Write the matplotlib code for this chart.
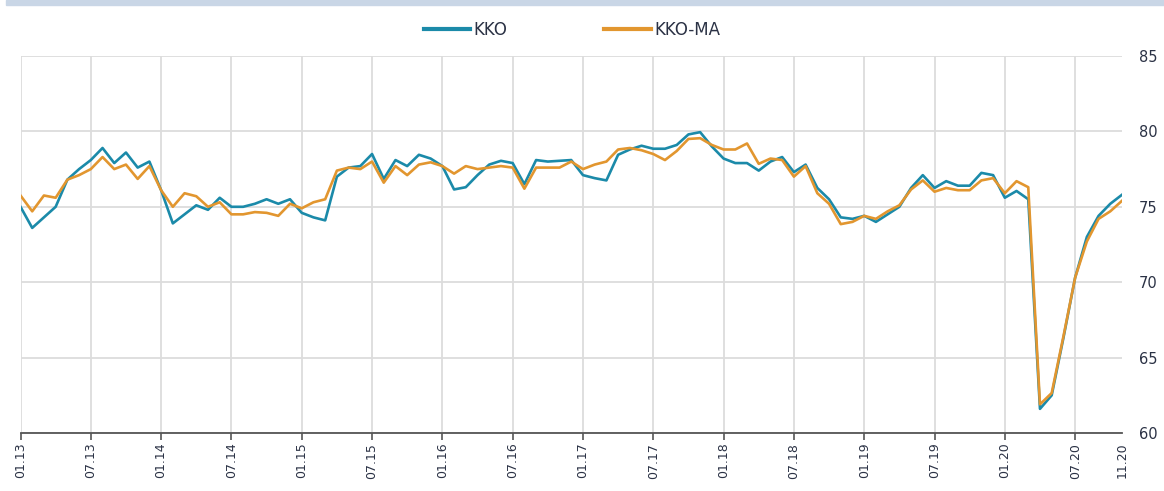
import numpy as np
import pandas as pd
import matplotlib
matplotlib.use("Agg")
import matplotlib.pyplot as plt
from matplotlib.patches import Rectangle

# Monthly data 01.13 - 11.20
months = pd.date_range("2013-01-01", "2020-11-01", freq="MS").strftime("%m.%y").tolist()

kko = [75.0, 73.6, 74.3, 75.0, 76.8, 77.5, 78.1, 78.9, 77.9, 78.6, 77.6, 78.0,
       76.1, 73.9, 74.5, 75.1, 74.8, 75.6, 75.0, 75.0, 75.2, 75.5, 75.2, 75.5,
       74.6, 74.3, 74.1, 77.0, 77.6, 77.7, 78.5, 76.85, 78.1, 77.7, 78.45, 78.2,
       77.7, 76.15, 76.3, 77.1, 77.8, 78.05, 77.9, 76.5, 78.1, 78.0, 78.05, 78.1,
       77.1, 76.9, 76.75, 78.45, 78.8, 79.05, 78.85, 78.85, 79.1, 79.8, 79.95, 79.0,
       78.2, 77.9, 77.9, 77.4, 78.0, 78.3, 77.3, 77.8, 76.25, 75.5, 74.3, 74.2,
       74.4, 74.0, 74.5, 75.0, 76.25, 77.1, 76.25, 76.7, 76.4, 76.4, 77.25, 77.1,
       75.6, 76.05, 75.5, 61.6, 62.5, 66.3, 70.3, 73.0, 74.4, 75.2, 75.8]

kko_ma = [75.75, 74.7, 75.75, 75.6, 76.8, 77.1, 77.5, 78.3, 77.5, 77.8, 76.85, 77.7,
          76.1, 75.0, 75.9, 75.7, 75.0, 75.3, 74.5, 74.5, 74.65, 74.6, 74.4, 75.2,
          74.9, 75.3, 75.5, 77.4, 77.6, 77.5, 78.0, 76.6, 77.7, 77.1, 77.8, 77.95,
          77.7, 77.2, 77.7, 77.5, 77.6, 77.7, 77.6, 76.2, 77.6, 77.6, 77.6, 78.0,
          77.5, 77.8, 78.0, 78.8, 78.9, 78.75, 78.5, 78.1, 78.7, 79.5, 79.55, 79.1,
          78.8, 78.8, 79.2, 77.85, 78.2, 78.1, 77.0, 77.7, 75.9, 75.2, 73.85, 74.0,
          74.4, 74.2, 74.7, 75.1, 76.15, 76.75, 76.0, 76.25, 76.1, 76.1, 76.75, 76.9,
          75.9, 76.7, 76.3, 61.9, 62.65, 66.4, 70.3, 72.7, 74.2, 74.7, 75.4]

tick_labels = ["01.13", "07.13", "01.14", "07.14", "01.15", "07.15", "01.16", "07.16",
               "01.17", "07.17", "01.18", "07.18", "01.19", "07.19", "01.20", "07.20", "11.20"]
y_ticks = [60, 65, 70, 75, 80, 85]

blue = "#1b8aa9"
orange = "#e2962f"
text_col = "#2b3245"

x = np.arange(len(months))
tick_pos = [months.index(t) for t in tick_labels]

fig = plt.figure(figsize=(11.64, 4.91), dpi=100)
ax = fig.add_axes([20.5 / 1164, 1 - 433 / 491, (1122 - 20.5) / 1164, (433 - 56) / 491])

# top band
fig.patches.append(Rectangle((6 / 1164, 1 - 5 / 491), 1, 5 / 491, transform=fig.transFigure,
                             color="#c9d6e6", zorder=0))

ax.plot(x, kko, color=blue, lw=1.9, label="KKO", zorder=3)
ax.plot(x, kko_ma, color=orange, lw=1.9, label="KKO-MA", zorder=4)

ax.set_xlim(0, len(months) - 1)
ax.set_ylim(60, 85)

ax.set_xticks(tick_pos)
ax.set_xticklabels(tick_labels, rotation=90, fontsize=9, color=text_col)
ax.set_yticks(y_ticks)
ax.set_yticklabels([str(v) for v in y_ticks], fontsize=10.5, color=text_col)
ax.yaxis.tick_right()
ax.tick_params(axis="y", length=0, pad=12)
ax.tick_params(axis="x", length=5, width=1.2, color="#555555", pad=2, direction="out")

ax.grid(True, color="#dcdcdc", lw=1.3)
gl = ax.get_xgridlines()
gl[-1].set_visible(False)
ax.get_xaxis().get_major_ticks()[-1].tick1line.set_visible(False)

for side in ["top", "left", "right"]:
    ax.spines[side].set_visible(False)
ax.spines["bottom"].set_color("#555555")
ax.spines["bottom"].set_linewidth(1.3)

leg = fig.legend(loc="center", bbox_to_anchor=(572 / 1164, 1 - 30 / 491), ncol=2, frameon=False,
                 fontsize=12, handlelength=2.8, handletextpad=0.2, columnspacing=5.8)
for t in leg.get_texts():
    t.set_color(text_col)
for h in leg.legend_handles:
    h.set_linewidth(3)

fig.savefig("out.png", dpi=100)
